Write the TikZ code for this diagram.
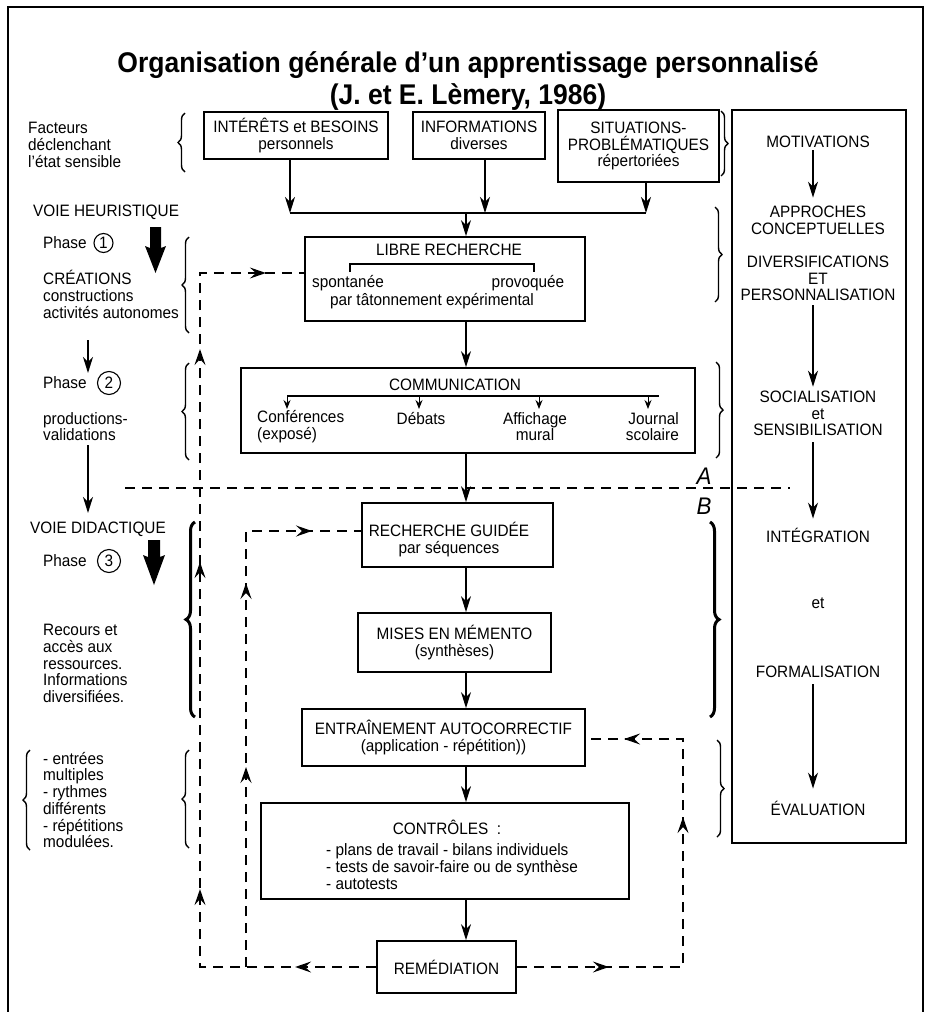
\documentclass[tikz,border=0pt]{standalone}
\usepackage{fontspec}
\setmainfont{Liberation Sans}[FakeStretch=0.93]
\usetikzlibrary{arrows.meta,decorations.pathreplacing,decorations.markings}
\begin{document}
\begin{tikzpicture}[x=1pt,y=-1pt,
  every node/.style={inner sep=0pt, font=\fontsize{16.5}{16.7}\selectfont},
  box/.style={draw, line width=1.8pt, align=center},
  ctxt/.style={align=center},
  ltxt/.style={align=left, anchor=west},
  ln/.style={line width=1.1pt},
  arr/.style={line width=1.3pt, -{Stealth[length=16pt,width=10pt,inset=5pt]}},
  tinyarr/.style={line width=1pt, -{Stealth[length=9pt,width=7pt,inset=3pt]}},
  dline/.style={line width=1.8pt, dash pattern=on 10pt off 7pt},
  brc/.style={decorate, decoration={brace, amplitude=7pt}, line width=1.4pt},
  bbrc/.style={decorate, decoration={brace, amplitude=9pt}, line width=3pt},
  num/.style={draw, circle, line width=1.1pt, inner sep=0pt},
  >={Stealth[length=16pt,width=11pt,inset=6pt]},
]
\useasboundingbox (0,0) rectangle (927,1012);
% frame
\draw[line width=1.4pt] (8,1012) -- (8,7) -- (923,7) -- (923,1012);
% title
\node[anchor=base, font=\bfseries\fontsize{28.5}{34}\selectfont] (title1) at (468,72) {Organisation générale d’un apprentissage personnalisé};
\node[anchor=base, font=\bfseries\fontsize{28.5}{34}\selectfont] (title2) at (468,104) {(J. et E. Lèmery, 1986)};

% top boxes
\node[box, minimum width=184pt, minimum height=47pt] (interets) at (296,135.5) {INTÉRÊTS et BESOINS\\personnels};
\node[box, minimum width=132pt, minimum height=47pt] (informations) at (479,135.5) {INFORMATIONS\\diverses};
\node[box, minimum width=161pt, minimum height=72pt] (situations) at (638.5,146) {SITUATIONS-\\PROBLÉMATIQUES\\répertoriées};

% libre recherche
\node[box, minimum width=280pt, minimum height=84pt] (libre) at (445,279) {};
\node (libreT) at (449,250) {LIBRE RECHERCHE};
\node (spont) at (348,283) {spontanée};
\node (provo) at (528,283) {provoquée};
\node (tatonn) at (432,301) {par tâtonnement expérimental};
\draw[ln] (350,272) -- (350,264) -- (534,264) -- (534,272);

% communication
\node[box, minimum width=454pt, minimum height=85pt] (comm) at (468,410.5) {};
\node (commT) at (455,385) {COMMUNICATION};
\coordinate (cl1) at (287,396);
\coordinate (cl2) at (659,396);
\draw[ln] (cl1) -- (cl2);
\node[ltxt] (conf) at (257,426.5) {Conférences\\(exposé)};
\node (debats) at (421,418) {Débats};
\node[ctxt] (affi) at (535,426.5) {Affichage\\mural};
\node[align=right, anchor=east] (journ) at (679,426.5) {Journal\\scolaire};
\foreach \x in {287,419,539,648} \draw[tinyarr] (\x,396) -- (\x,409);

% didactic chain
\node[box, minimum width=191pt, minimum height=64pt] (rg) at (457.5,535) {};
\node[ctxt] (rgT) at (449,539.5) {RECHERCHE GUIDÉE\\par séquences};
\node[box, minimum width=193pt, minimum height=59pt] (mises) at (454.5,642.5) {MISES EN MÉMENTO\\(synthèses)};
\node[box, minimum width=283pt, minimum height=57pt] (entr) at (443.5,737.5) {ENTRAÎNEMENT AUTOCORRECTIF\\(application - répétition))};
\node[box, minimum width=368pt, minimum height=96pt] (ctrl) at (445,851) {};
\node (ctrlT) at (447,827) {CONTRÔLES~~:};
\node[ltxt] (ctrlL) at (326,866.5) {- plans de travail - bilans individuels\\- tests de savoir-faire ou de synthèse\\- autotests};
\node[box, minimum width=139pt, minimum height=52pt] (remed) at (446.5,967) {REMÉDIATION};

% solid connectors
\coordinate (jL) at (290,213);
\coordinate (jM) at (485,213);
\coordinate (jR) at (646,213);
\coordinate (jC) at (466,213);
\draw[arr] (interets.south -| jL) -- (jL);
\draw[arr] (informations.south -| jM) -- (jM);
\draw[arr] (situations.south -| jR) -- (jR);
\draw[ln] (jL) -- (jR);
\draw[arr] (jC) -- (libre.north -| jC);
\draw[arr] (libre.south -| jC) -- (comm.north -| jC);
\draw[arr] (comm.south -| jC) -- (rg.north -| jC);
\draw[arr] (rg.south -| jC) -- (mises.north -| jC);
\draw[arr] (mises.south -| jC) -- (entr.north -| jC);
\draw[arr] (entr.south -| jC) -- (ctrl.north -| jC);
\draw[arr] (ctrl.south -| jC) -- (remed.north -| jC);

% right column
\node[draw, line width=1.8pt, minimum width=174pt, minimum height=733pt] (col) at (819,476.5) {};
\node (motiv) at (818,142) {MOTIVATIONS};
\node[ctxt] (appr) at (818,220) {APPROCHES\\CONCEPTUELLES};
\node[ctxt] (divers) at (818,278.5) {DIVERSIFICATIONS\\ET\\PERSONNALISATION};
\node[ctxt] (soc) at (818,413.5) {SOCIALISATION\\et\\SENSIBILISATION};
\node (integ) at (818,535) {INTÉGRATION};
\node (etw) at (818,603) {et};
\node (form) at (818,672) {FORMALISATION};
\node (evalu) at (818,808) {ÉVALUATION};
\coordinate (ax) at (813,0);
\draw[arr, shorten <=2pt, shorten >=8pt] (motiv.south -| ax) -- (appr.north -| ax);
\draw[arr, shorten <=4pt, shorten >=4pt] (divers.south -| ax) -- (soc.north -| ax);
\draw[arr, shorten <=6pt, shorten >=9pt] (soc.south -| ax) -- (integ.north -| ax);
\draw[arr, shorten <=6pt, shorten >=12pt] (form.south -| ax) -- (evalu.north -| ax);

% A / B
\node[font=\itshape\fontsize{24}{24}\selectfont] (A) at (704,476) {A};
\node[font=\itshape\fontsize{24}{24}\selectfont] (B) at (704,506) {B};
\coordinate (ab1) at (125,488);
\coordinate (ab2) at (790,488);
\draw[dline] (ab1) -- (ab2);

% left texts
\node[ltxt] (facteurs) at (28,145) {Facteurs\\déclenchant\\l'état sensible};
\node[ltxt] (voieh) at (33,212) {VOIE HEURISTIQUE};
\node[ltxt] (ph1) at (43,243) {Phase};
\node[num, minimum size=19pt] (c1) at (103.5,243) {1};
\node[ltxt] (creat) at (43,294.5) {CRÉATIONS\\constructions\\activités autonomes};
\node[ltxt] (ph2) at (43,383) {Phase};
\node[num, minimum size=23pt] (c2) at (109,383) {2};
\node[ltxt] (prod) at (43,426.5) {productions-\\validations};
\node[ltxt] (voied) at (30,529) {VOIE DIDACTIQUE};
\node[ltxt] (ph3) at (43,561) {Phase};
\node[num, minimum size=23pt] (c3) at (109,561) {3};
\node[ltxt] (recours) at (43,663.5) {Recours et\\accès aux\\ressources.\\Informations\\diversifiées.};
\node[ltxt] (entrees) at (43,800) {- entrées\\multiples\\- rythmes\\différents\\- répétitions\\modulées.};

% bold arrows
\fill (150,227) -- (161,227) -- (161,248) -- (166,246) -- (155.5,273) -- (145,246) -- (150,248) -- cycle;
\fill (148,540) -- (160,540) -- (160,557) -- (165,555) -- (154,585) -- (143,555) -- (148,557) -- cycle;

% small arrows
\coordinate (s1a) at (88,340);
\coordinate (s1b) at (88,373);
\coordinate (s2a) at (88,445);
\coordinate (s2b) at (88,513);
\draw[arr] (s1a) -- (s1b);
\draw[arr] (s2a) -- (s2b);

% braces
\draw[brc] (185,172) -- (185,113);
\draw[brc] (721,111) -- (721,176);
\draw[brc] (189,333) -- (189,237);
\draw[brc] (715,207) -- (715,302);
\draw[brc] (189,460) -- (189,363);
\draw[brc] (716,362) -- (716,458);
\draw[bbrc] (195,717) -- (195,522);
\draw[bbrc] (710,522) -- (710,717);
\draw[brc] (189,848) -- (189,750);
\draw[brc] (717,740) -- (717,837);
\draw[brc] (30,850) -- (30,750);

% dashed feedback loops
\coordinate (o1) at (200,967);
\coordinate (o2) at (200,273);
\coordinate (i1) at (246,967);
\coordinate (i2) at (246,531);
\coordinate (r1) at (683,967);
\coordinate (r2) at (683,739);
\draw[dline, postaction={decorate}, decoration={markings,
   mark=at position 81pt with {\arrow{>}},
   mark=at position 254pt with {\arrow{>}},
   mark=at position 581pt with {\arrow{>}},
   mark=at position 794pt with {\arrow{>}},
   mark=at position 936pt with {\arrow{>}}}]
   (remed.west) -- (o1) -- (o2) -- (o2 -| libre.west);
\draw[dline, postaction={decorate}, decoration={markings,
   mark=at position 200pt with {\arrow{>}},
   mark=at position 384pt with {\arrow{>}},
   mark=at position 502pt with {\arrow{>}}}]
   (i1) -- (i2) -- (i2 -| rg.west);
\draw[dline, postaction={decorate}, decoration={markings,
   mark=at position 92pt with {\arrow{>}},
   mark=at position 316pt with {\arrow{>}},
   mark=at position 453pt with {\arrow{>}}}]
   (remed.east) -- (r1) -- (r2) -- (r2 -| entr.east);
\end{tikzpicture}
\end{document}
